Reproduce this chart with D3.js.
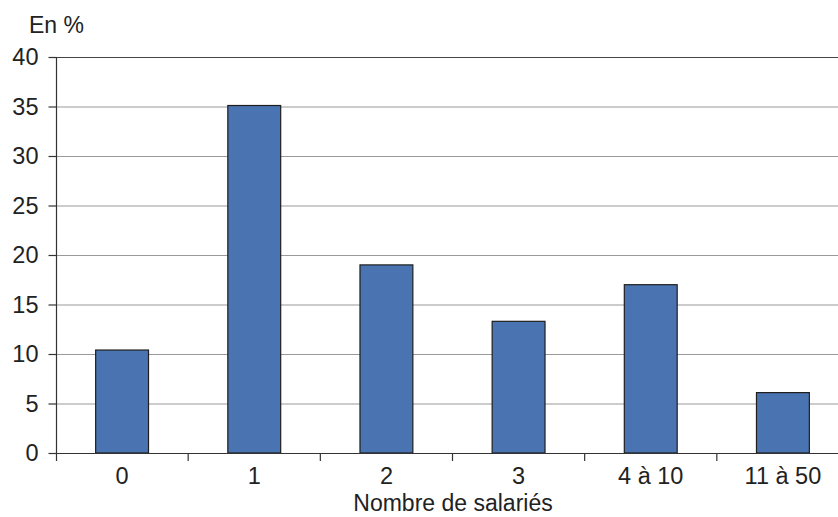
<!DOCTYPE html>
<html>
<head>
<meta charset="utf-8">
<script src="https://cdn.jsdelivr.net/npm/d3@7"></script>
<style>
  body { margin: 0; background: #fff; }
  svg { display: block; font-family: "Liberation Sans", Arial, sans-serif; }
</style>
</head>
<body>
<svg id="chart" width="838" height="517"></svg>
<script>
// Répartition par nombre de salariés (en %)
const categories = ["0", "1", "2", "3", "4 à 10", "11 à 50"];
const values = [10.4, 35.1, 19.0, 13.3, 17.0, 6.1];
const yTicks = [0, 5, 10, 15, 20, 25, 30, 35, 40];

const svg = d3.select("#chart");
const margin = { left: 56, top: 57 };
const plotBottom = 453;
const plotRight = 849;

const x = d3.scaleBand()
  .domain(categories)
  .range([margin.left, plotRight])
  .paddingInner(0.6)
  .paddingOuter(0.3);

const y = d3.scaleLinear().domain([0, 40]).range([plotBottom, margin.top]);

// Horizontal gridlines
svg.append("g")
  .selectAll("line")
  .data(yTicks.filter(d => d > 0 && d < 40))
  .join("line")
  .attr("x1", margin.left).attr("x2", plotRight)
  .attr("y1", d => y(d) + 0.5).attr("y2", d => y(d) + 0.5)
  .attr("stroke", "#9a9a9a").attr("stroke-width", 1.2);

// Top frame line at 40
svg.append("line")
  .attr("x1", margin.left).attr("x2", plotRight)
  .attr("y1", y(40) + 0.5).attr("y2", y(40) + 0.5)
  .attr("stroke", "#444").attr("stroke-width", 1.2);

// Bars
svg.append("g")
  .selectAll("rect")
  .data(values)
  .join("rect")
  .attr("x", (d, i) => x(categories[i]))
  .attr("width", x.bandwidth())
  .attr("y", d => y(d))
  .attr("height", d => y(0) - y(d))
  .attr("fill", "#4a74b1")
  .attr("stroke", "#1e1e1e")
  .attr("stroke-width", 1.2);

// Y axis
const yAxis = d3.axisLeft(y).tickValues(yTicks).tickSize(8).tickPadding(10).tickSizeOuter(0);
const gy = svg.append("g")
  .attr("transform", `translate(${margin.left + 0.5},0)`)
  .call(yAxis);
gy.select(".domain").remove();
gy.selectAll(".tick line").attr("stroke", "#333").attr("stroke-width", 1.2);
gy.selectAll(".tick text").attr("font-size", 23.5).attr("fill", "#222")
  .attr("font-family", "Liberation Sans, Arial, sans-serif");

// Vertical axis line, extended below the baseline
svg.append("line")
  .attr("x1", margin.left + 0.5).attr("x2", margin.left + 0.5)
  .attr("y1", y(40)).attr("y2", plotBottom + 8)
  .attr("stroke", "#333").attr("stroke-width", 1.2);

// Baseline
svg.append("line")
  .attr("x1", margin.left).attr("x2", plotRight)
  .attr("y1", plotBottom + 0.5).attr("y2", plotBottom + 0.5)
  .attr("stroke", "#333").attr("stroke-width", 1.2);

// Tick marks between categories
const step = x.step();
const boundaries = categories.slice(1).map(c => x(c) - (step - x.bandwidth()) / 2);
svg.append("g")
  .selectAll("line")
  .data(boundaries)
  .join("line")
  .attr("x1", d => d).attr("x2", d => d)
  .attr("y1", plotBottom).attr("y2", plotBottom + 8)
  .attr("stroke", "#333").attr("stroke-width", 1.2);

// Category labels
svg.append("g")
  .selectAll("text")
  .data(categories)
  .join("text")
  .attr("x", d => x(d) + x.bandwidth() / 2)
  .attr("y", 484)
  .attr("text-anchor", "middle")
  .attr("font-size", 23.5)
  .attr("fill", "#222")
  .text(d => d);

// Axis titles
svg.append("text")
  .attr("x", 453).attr("y", 511)
  .attr("text-anchor", "middle")
  .attr("font-size", 23)
  .attr("fill", "#222")
  .text("Nombre de salariés");

svg.append("text")
  .attr("x", 29).attr("y", 33)
  .attr("font-size", 23)
  .attr("fill", "#222")
  .text("En %");
</script>
</body>
</html>
